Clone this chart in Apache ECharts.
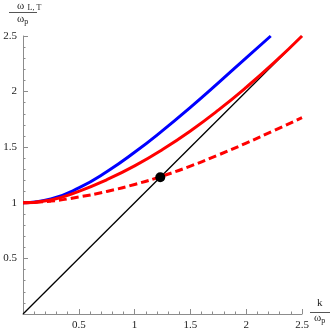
<!DOCTYPE html>
<html><head><meta charset="utf-8">
<script src="https://cdn.jsdelivr.net/npm/echarts@6/dist/echarts.min.js"></script>
<style>html,body{margin:0;padding:0;background:#fff}#c{width:332px;height:332px}</style>
</head><body><div id="c"></div>
<script>
// transverse branch (blue)
const kBlue = [0, 0.25, 0.5, 0.75, 1.0, 1.25, 1.5, 1.75, 2.0, 2.22];
const wBlue = [1.0, 1.034, 1.134, 1.279, 1.454, 1.649, 1.859, 2.079, 2.304, 2.5];
// longitudinal branch (red solid)
const kRed = [0, 0.25, 0.5, 0.75, 1.0, 1.25, 1.5, 1.75, 2.0, 2.25, 2.5];
const wRed = [1.0, 1.025, 1.102, 1.207, 1.332, 1.479, 1.646, 1.833, 2.038, 2.26, 2.5];
// dashed red branch
const kDash = [0, 0.25, 0.5, 0.75, 1.0, 1.25, 1.5, 1.75, 2.0, 2.25, 2.5];
const wDash = [1.0, 1.015, 1.052, 1.102, 1.165, 1.241, 1.33, 1.43, 1.537, 1.65, 1.765];
// light cone
const kLine = [0, 2.5];
const wLine = [0, 2.5];
// crossing point
const dotK = [1.23];
const dotW = [1.23];

const zip = (a, b) => a.map((v, i) => [v, b[i]]);
const font = 'Liberation Serif';
const axisCommon = {
  type: 'value', min: 0, max: 2.5, interval: 0.5,
  axisLine: { show: true, lineStyle: { color: '#8c8c8c', width: 1 } },
  axisTick: { show: true, inside: true, length: 5, lineStyle: { color: '#8c8c8c' } },
  minorTick: { show: true, splitNumber: 5, length: 2.5, lineStyle: { color: '#8c8c8c' } },
  splitLine: { show: false },
  axisLabel: {
    fontFamily: font, fontSize: 11, color: '#222', margin: 6,
    formatter: v => (v === 0 ? '' : String(v))
  }
};
const chart = echarts.init(document.getElementById('c'), null, { renderer: 'canvas' });
chart.setOption({
  animation: false,
  grid: { left: 23, right: 30, top: 36, bottom: 18 },
  xAxis: Object.assign({}, axisCommon),
  yAxis: Object.assign({}, axisCommon),
  series: [
    { type: 'line', data: zip(kLine, wLine), symbol: 'none', lineStyle: { color: '#000', width: 1.3 }, z: 2 },
    { type: 'line', data: zip(kBlue, wBlue), symbol: 'none', smooth: 0.5, lineStyle: { color: '#0000ff', width: 3 }, z: 3 },
    { type: 'line', data: zip(kRed, wRed), symbol: 'none', smooth: 0.5, lineStyle: { color: '#ff0000', width: 3 }, z: 4 },
    { type: 'line', data: zip(kDash, wDash), symbol: 'none', smooth: 0.5, lineStyle: { color: '#ff0000', width: 3, type: [8, 4] }, z: 4 },
    { type: 'scatter', data: zip(dotK, dotW), symbol: 'circle', symbolSize: 10, itemStyle: { color: '#000', opacity: 1 }, z: 6 }
  ],
  graphic: [
    { type: 'text', left: 17, top: 0, style: { text: '{w|ω} {s|L, T}', rich: { w: { fontFamily: font, fontSize: 11, fill: '#222' }, s: { fontFamily: font, fontSize: 8, fill: '#222', padding: [4, 0, 0, 0] } } } },
    { type: 'line', shape: { x1: 9, y1: 12.5, x2: 37, y2: 12.5 }, style: { stroke: '#555', lineWidth: 1 } },
    { type: 'text', left: 17, top: 14, style: { text: '{w|ω}{s|p}', rich: { w: { fontFamily: font, fontSize: 11, fill: '#222' }, s: { fontFamily: font, fontSize: 8, fill: '#222', padding: [5, 0, 0, 0] } } } },
    { type: 'text', left: 317, top: 298, style: { text: 'k', fontFamily: font, fontSize: 11, fill: '#222' } },
    { type: 'line', shape: { x1: 310, y1: 312.5, x2: 330, y2: 312.5 }, style: { stroke: '#555', lineWidth: 1 } },
    { type: 'text', left: 314, top: 313, style: { text: '{w|ω}{s|p}', rich: { w: { fontFamily: font, fontSize: 11, fill: '#222' }, s: { fontFamily: font, fontSize: 8, fill: '#222', padding: [5, 0, 0, 0] } } } }
  ]
});
</script></body></html>
